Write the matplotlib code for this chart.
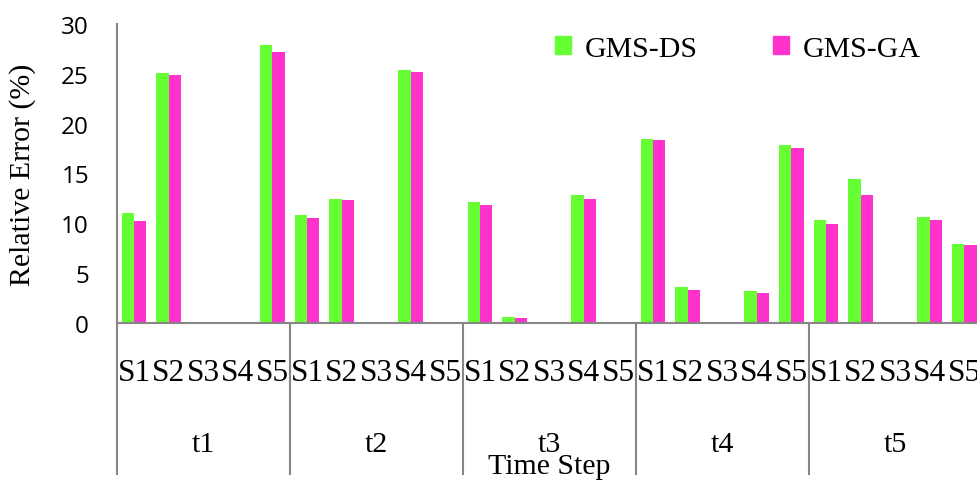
import matplotlib.pyplot as plt
from matplotlib.patches import Patch
import numpy as np

steps = ["t1", "t2", "t3", "t4", "t5"]
schemes = ["S1", "S2", "S3", "S4", "S5"]

# relative error per time step, scheme S1..S5 (0 = no error)
gms_ds = [
    [11.0, 25.1, 0.0, 0.0, 27.9],
    [10.8, 12.4, 0.0, 25.4, 0.0],
    [12.1, 0.6, 0.0, 12.8, 0.0],
    [18.5, 3.6, 0.0, 3.25, 17.9],
    [10.3, 14.45, 0.0, 10.6, 7.95],
]
gms_ga = [
    [10.2, 24.9, 0.0, 0.0, 27.15],
    [10.5, 12.3, 0.0, 25.2, 0.0],
    [11.8, 0.5, 0.0, 12.4, 0.0],
    [18.4, 3.3, 0.0, 3.0, 17.55],
    [9.95, 12.85, 0.0, 10.35, 7.85],
]

green = "#66ff33"
magenta = "#ff33cc"
grey = "#868686"
serif = "Liberation Serif"

fig = plt.figure(figsize=(9.77, 4.81), dpi=100)
ax = fig.add_axes([116.7 / 977, 1 - 324 / 481, 865 / 977, 299 / 481])

ds = np.array(gms_ds).ravel()
ga = np.array(gms_ga).ravel()
x = np.arange(len(ds))
w = 0.36
ax.bar(x - w / 2, ds, w, color=green, edgecolor="none")
ax.bar(x + w / 2, ga, w, color=magenta, edgecolor="none")

ax.set_xlim(-0.5, len(ds) - 0.5)
ax.set_ylim(0, 30)
ax.set_yticks(np.arange(0, 31, 5))
ax.tick_params(axis="y", length=0, pad=20, labelsize=17.5)
for lab in ax.get_yticklabels():
    lab.set_fontfamily("Open Sans")

ax.set_xticks(x)
ax.set_xticklabels(schemes * len(steps), fontfamily=serif, fontsize=22.5)
ax.tick_params(axis="x", length=0, pad=25)

for side in ["top", "right"]:
    ax.spines[side].set_visible(False)
for side in ["left", "bottom"]:
    ax.spines[side].set_color(grey)
    ax.spines[side].set_linewidth(1.5)

# group separators below the axis
trans = ax.get_xaxis_transform()
for k in range(len(steps)):
    xb = k * len(schemes) - 0.5
    ax.plot([xb, xb], [0, -0.505], color=grey, lw=1.5, transform=trans, clip_on=False)
    ax.text(xb + len(schemes) / 2, -0.405, steps[k], transform=trans,
            ha="center", va="center", fontfamily=serif, fontsize=21.5)

ax.text(0.5, -0.478, "Time Step", transform=ax.transAxes, ha="center", va="center",
        fontfamily=serif, fontsize=21.5)
fig.text(23 / 977, 1 - 175 / 481, "Relative Error (%)", rotation=90, ha="center", va="center",
         fontfamily=serif, fontsize=21.5)

handles = [Patch(color=green, label="GMS-DS"), Patch(color=magenta, label="GMS-GA")]
ax.legend(handles=handles, loc="center left", bbox_to_anchor=(555 / 977, 1 - 50 / 481),
          bbox_transform=fig.transFigure, ncol=2, frameon=False, borderpad=0, borderaxespad=0,
          handlelength=0.55, handleheight=0.55, handletextpad=0.45, columnspacing=2.5,
          prop={"family": serif, "size": 21.5})

fig.savefig("out.png", dpi=100)
